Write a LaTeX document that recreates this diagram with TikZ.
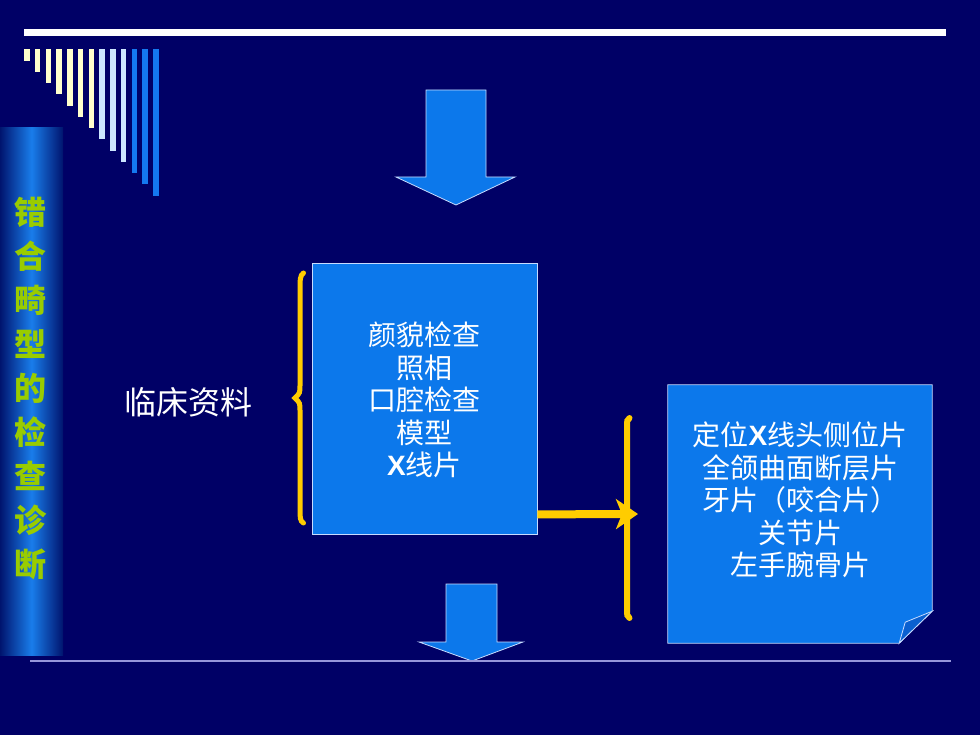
\documentclass[tikz,border=0pt]{standalone}
\usepackage{fontspec}
\newfontfamily\cjk{Noto Sans CJK SC}
\newfontfamily\lsans{Liberation Sans}
\usetikzlibrary{arrows.meta}
\definecolor{bg}{RGB}{0,0,102}
\definecolor{cream}{RGB}{255,255,204}
\definecolor{paleblue}{RGB}{204,230,255}
\definecolor{barblue}{RGB}{20,120,240}
\definecolor{boxblue}{RGB}{12,120,235}
\definecolor{foldblue}{RGB}{10,96,208}
\definecolor{edge}{RGB}{200,220,255}
\definecolor{gold}{RGB}{255,204,0}
\definecolor{stripedge}{RGB}{0,20,110}
\definecolor{stripmid}{RGB}{25,125,235}
\definecolor{striptxt}{RGB}{153,204,0}
\definecolor{rule}{RGB}{150,150,220}
\tikzset{
  boxtext/.style={align=center, text=white, font=\cjk\fontsize{28}{32.5}\selectfont, inner sep=0pt},
  stripchar/.style={text=striptxt, font=\cjk\bfseries\fontsize{32}{32}\selectfont, inner sep=0pt},
  bracepath/.style={draw=gold, line width=5pt, line cap=round},
  blockarrow/.style={fill=boxblue, draw=edge, line width=0.8pt},
}
\begin{document}
\begin{tikzpicture}[x=1pt,y=-1pt]
\fill[bg] (0,0) rectangle (980,735);
\useasboundingbox (0,0) rectangle (980,735);
% top rule
\fill[white] (24,29.5) rectangle (946,36);
% bars
\foreach \i/\c in {0/cream,1/cream,2/cream,3/cream,4/cream,5/cream,6/cream,7/paleblue,8/paleblue,9/paleblue,10/barblue,11/barblue,12/barblue}{
  \fill[\c] ({24+\i*10.75},49) rectangle ({29.5+\i*10.75},{60.7+\i*11.25});
}
% left strip
\shade[left color=stripedge, right color=stripedge, middle color=stripmid] (0,128) rectangle (63,655);
\foreach \ch [count=\k from 0] in {错,合,畸,型,的,检,查,诊,断}{
  \node[stripchar] (s\k) at (30,{212+\k*44}) {\ch};
}
% label
\node[text=white, font=\cjk\fontsize{32}{32}\selectfont, inner sep=0pt] (lbl) at (188,402) {临床资料};
% main box
\node[fill=boxblue, draw=edge, line width=0.8pt, minimum width=225pt, minimum height=271pt, inner sep=0pt] (box1) at (424.5,398.5) {};
\node[boxtext] (t1) at (424.5,400) {颜貌检查\\照相\\口腔检查\\模型\\{\lsans\bfseries X}线片};
% left brace
\draw[bracepath] (303.5,273) .. controls (300,275) and (300,280) .. (300,290) -- (300,385)
  .. controls (300,393) .. (295,398) .. controls (300,403) .. (300,411) -- (300,508)
  .. controls (300,518) and (300,521) .. (303.5,523);
% right box (folded note)
\node[minimum width=264pt, minimum height=258pt, inner sep=0pt] (box2) at (800,514) {};
\fill[boxblue, draw=edge, line width=0.8pt] (box2.north west) -- (box2.north east) -- ([yshift=32pt]box2.south east) -- ([xshift=-33pt]box2.south east) -- (box2.south west) -- cycle;
\fill[foldblue, draw=edge, line width=0.8pt] ([yshift=32pt]box2.south east) -- ([xshift=-27pt,yshift=21pt]box2.south east) -- ([xshift=-33pt]box2.south east) -- cycle;
\node[boxtext] (t2) at (800,500) {定位{\lsans\bfseries X}线头侧位片\\全颌曲面断层片\\牙片（咬合片）\\关节片\\左手腕骨片};
% right bar and arrow
\draw[bracepath, line width=6pt] (629.5,418) .. controls (627,420) .. (627,428) -- (627,608) .. controls (627,616) .. (629.5,618);
\coordinate (rtip) at (638,514);
\draw[gold, line width=8pt, -{Stealth[length=22pt,width=30pt,inset=6pt]}] ([yshift=20pt]box1.south east) -- (rtip);
% block arrows
\draw[blockarrow] (426,90) -- (486,90) -- (486,177) -- (515,177) -- (456,205) -- (396,177) -- (426,177) -- cycle;
\draw[blockarrow] (446,584) -- (497,584) -- (497,642) -- (523,642) -- (472,661) -- (419,642) -- (446,642) -- cycle;
% bottom rule
\draw[rule, line width=2pt] (30,661) -- (951,661);
\end{tikzpicture}
\end{document}
